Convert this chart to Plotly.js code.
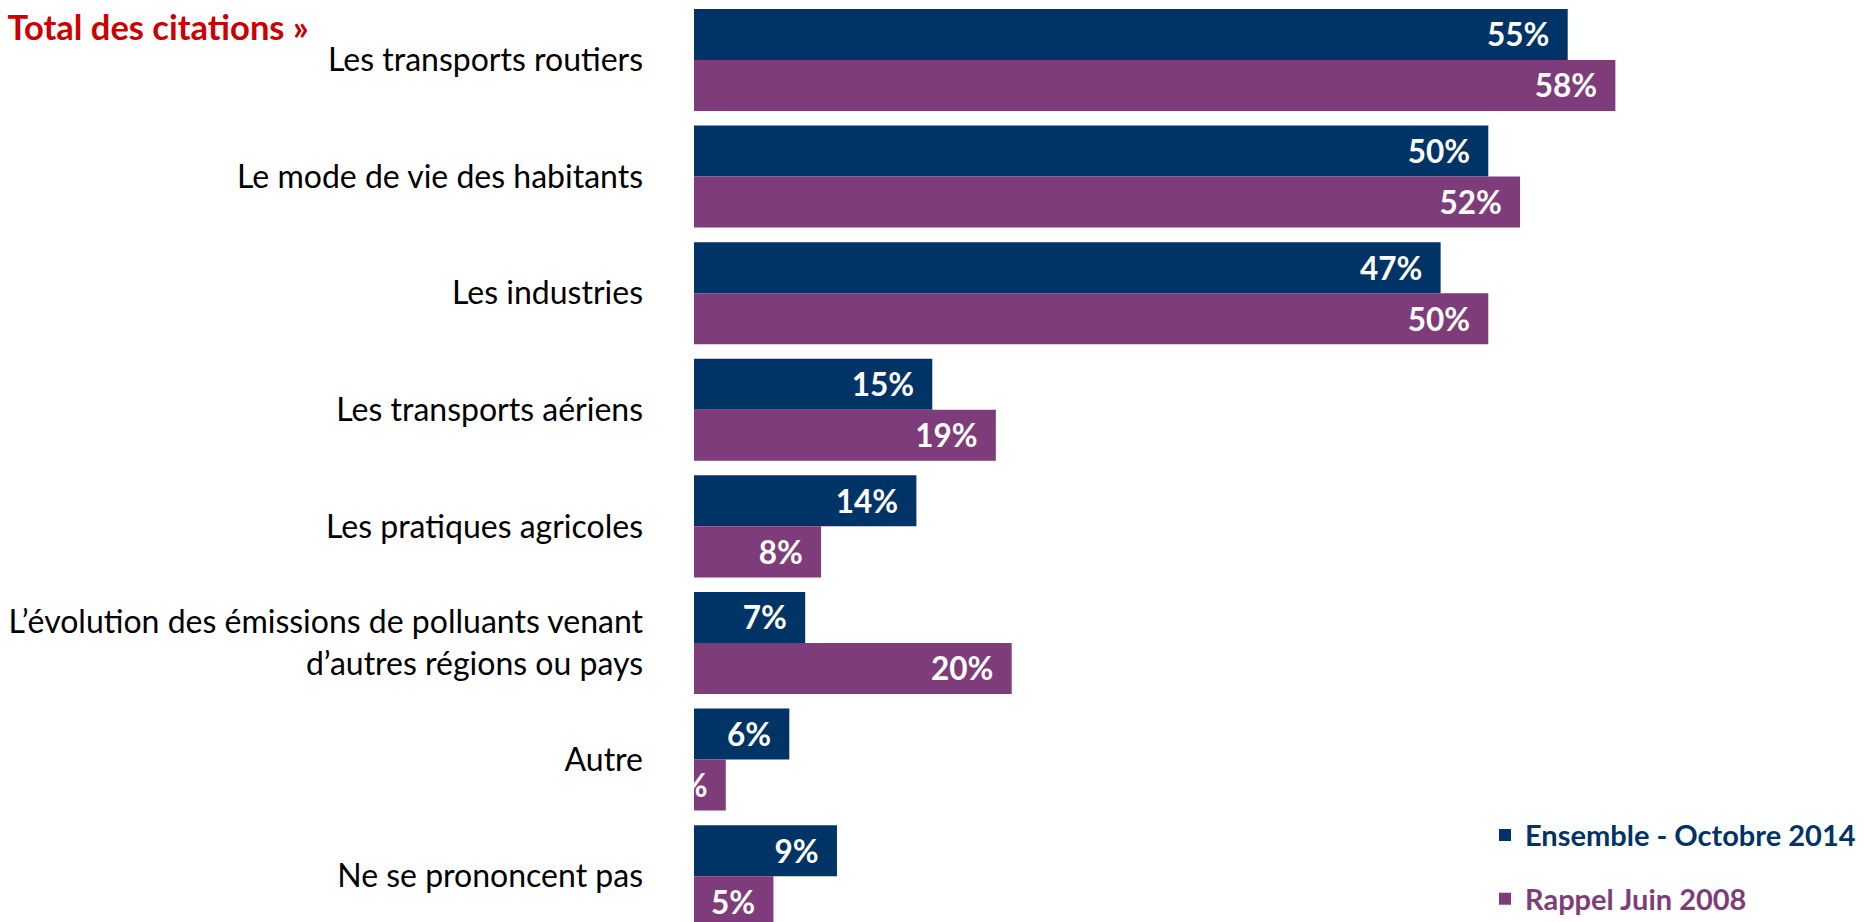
<!DOCTYPE html>
<html>
<head>
<meta charset="utf-8">
<script src="https://cdn.plot.ly/plotly-3.0.1.min.js"></script>
<style>html,body{margin:0;padding:0;background:#fff;}#chart{width:1876px;height:922px;}</style>
</head>
<body>
<div id="chart"></div>
<script>
const categories = [
  "Les transports routiers",
  "Le mode de vie des habitants",
  "Les industries",
  "Les transports aériens",
  "Les pratiques agricoles",
  "L’évolution des émissions de polluants venant<br>d’autres régions ou pays",
  "Autre",
  "Ne se prononcent pas"
];
const ensemble2014 = [55, 50, 47, 15, 14, 7, 6, 9];
const rappel2008 = [58, 52, 50, 19, 8, 20, 2, 5];
const seriesNames = ["Ensemble - Octobre 2014", "Rappel Juin 2008"];
const titleText = "Total des citations »";

const navy = "#003466";
const purple = "#7E3D7A";
const FONT = "Lato, 'Open Sans', sans-serif";

function barTrace(vals, name, color, group) {
  return {
    type: "bar",
    orientation: "h",
    y: categories,
    x: vals,
    name: '<span style="color:' + color + '">' + name + '</span>',
    legendgroup: group,
    marker: {color: color},
    text: vals.map(v => v + "%\u00a0\u00a0"),
    textposition: "inside",
    insidetextanchor: "end",
    constraintext: "none",
    textangle: 0,
    textfont: {family: FONT, size: 31.5, color: "#ffffff", weight: "bold"},
    hoverinfo: "x+y"
  };
}

const data = [
  barTrace(ensemble2014, seriesNames[0], navy, "g1"),
  barTrace(rappel2008, seriesNames[1], purple, "g2")
];

const layout = {
  width: 1876,
  height: 922,
  paper_bgcolor: "#ffffff",
  plot_bgcolor: "#ffffff",
  margin: {l: 694, r: 70, t: 2, b: 0, pad: 0, autoexpand: false},
  barmode: "group",
  bargap: 0.125,
  bargroupgap: 0,
  font: {family: FONT, color: "#000000"},
  title: {
    text: "<b>" + titleText + "</b>",
    font: {family: FONT, size: 34.5, color: "#CC0000"},
    xref: "container", yref: "container",
    x: 0.004, xanchor: "left",
    y: 1 - 28 / 922, yanchor: "middle"
  },
  xaxis: {
    range: [0, 70],
    visible: false,
    showgrid: false,
    zeroline: false
  },
  yaxis: {
    range: [7.393, -0.497],
    showgrid: false,
    zeroline: false,
    showline: false,
    ticks: "",
    ticklabelstandoff: 50,
    tickfont: {family: FONT, size: 32, color: "#000000"}
  },
  showlegend: true,
  legend: {
    xref: "paper", yref: "paper",
    x: (1485 - 694) / 1112, xanchor: "left",
    y: -0.0028, yanchor: "bottom",
    traceorder: "grouped",
    tracegroupgap: 23,
    font: {family: FONT, size: 29, weight: "bold"},
    bgcolor: "rgba(0,0,0,0)",
    borderwidth: 0
  }
};

Plotly.newPlot("chart", data, layout, {displayModeBar: false, staticPlot: true});
</script>
</body>
</html>
